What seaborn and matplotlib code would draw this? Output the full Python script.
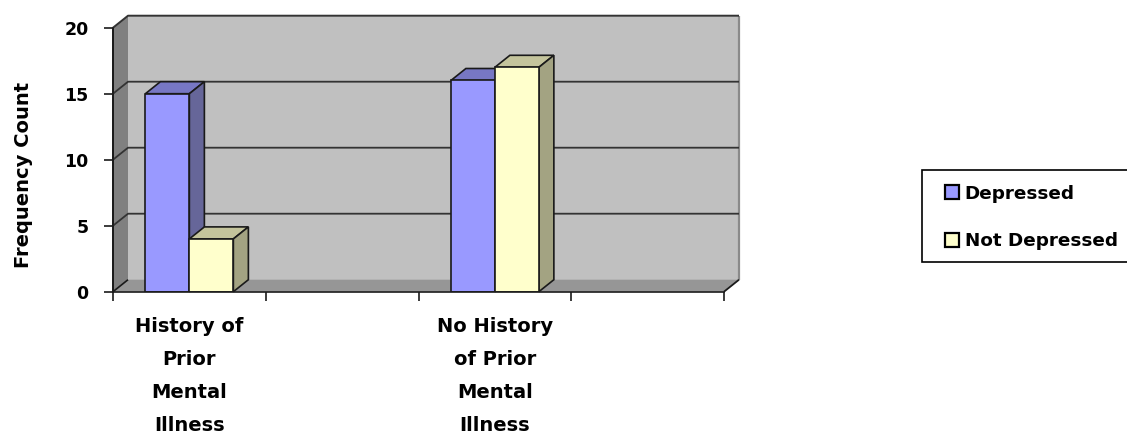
import numpy as np
import pandas as pd
import matplotlib
matplotlib.use("Agg")
import matplotlib.pyplot as plt
from matplotlib.patches import Polygon, Rectangle, Patch
from matplotlib.colors import to_hex
from matplotlib.transforms import Affine2D
import seaborn as sns

categories = ["History of\nPrior\nMental\nIllness", "", "No History\nof Prior\nMental\nIllness", " "]
bar_categories = ["History of\nPrior\nMental\nIllness", "No History\nof Prior\nMental\nIllness"]
depressed = [15, 16]
not_depressed = [4, 17]
series_names = ["Depressed", "Not Depressed"]
y_ticks = [0, 5, 10, 15, 20]
y_label = "Frequency Count"

FRONT = {"Depressed": "#9999FF", "Not Depressed": "#FFFFCC"}
SIDE = {"Depressed": "#666699", "Not Depressed": "#A3A382"}
TOP = {"Depressed": "#7777C4", "Not Depressed": "#C4C49C"}
DX, DY = 15, 12
LINE = "#1a1a1a"

df = pd.DataFrame({
    "Category": bar_categories * 2,
    "Status": [series_names[0]] * 2 + [series_names[1]] * 2,
    "Frequency": depressed + not_depressed,
})

sns.set_theme(style="white")
plt.rcParams["font.family"] = ["DejaVu Sans"]
plt.rcParams["font.weight"] = "bold"

W, H = 1127, 436
fig = plt.figure(figsize=(W / 100, H / 100), dpi=100, facecolor="white")
ax = fig.add_axes([113 / W, 1 - 291.7 / H, (724 - 113) / W, (291.7 - 27.7) / H])
ax.patch.set_alpha(0)

sns.barplot(data=df, x="Category", y="Frequency", hue="Status", order=categories,
            hue_order=series_names, palette=FRONT, saturation=1, width=0.576, gap=0, dodge=True,
            edgecolor=LINE, linewidth=1.2, zorder=5, ax=ax, legend=False)
ax.set_xlim(-0.5, 3.5)
ax.set_ylim(0, 20)
bars = sorted([p for p in ax.patches if isinstance(p, Rectangle) and p.get_height() > 0],
              key=lambda p: p.get_x())

# pseudo-3D box, derived from the axes scales
to_px = ax.transData.transform
def poly(pts, color, z, edge="none", lw=0):
    ax.add_patch(Polygon(pts, closed=True, transform=Affine2D(), facecolor=color,
                         edgecolor=edge, linewidth=lw, zorder=z, clip_on=False))
def line(pts, z=2, color=LINE, lw=1.0):
    arr = np.array(pts)
    ax.plot(arr[:, 0], arr[:, 1], transform=Affine2D(), color=color, lw=lw, zorder=z,
            clip_on=False, solid_capstyle="butt")

xl, xr = ax.get_xlim()
ytop = y_ticks[-1]
d = np.array([DX, DY])
bl, br, tl, tr = to_px([(xl, 0), (xr, 0), (xl, ytop), (xr, ytop)])
poly([bl + d, br + d, tr + d, tl + d], "#C0C0C0", 1)
poly([bl, bl + d, tl + d, tl], "#808080", 1)
poly([bl, br, br + d, bl + d], "#969696", 1)
line([tr + d, br + d], color="#8a8a8a", lw=1.6)
line([bl, tl], lw=1.3)
for t in y_ticks:
    a, b = to_px([(xl, t), (xr, t)])
    if t == 0:
        line([a, a + d], lw=1.2)
        continue
    line([a, a + d, b + d], lw=1.4 if t == ytop else 1.3, color="#333333")
line([br, br + d], lw=1.3)

# depth faces of every bar, left to right
for i, p in enumerate(bars):
    name = series_names[0] if to_hex(p.get_facecolor()).upper() == FRONT["Depressed"].upper() else series_names[1]
    x0, x1, h = p.get_x(), p.get_x() + p.get_width(), p.get_height()
    a, b, c = to_px([(x0, h), (x1, h), (x1, 0)])
    poly([a, b, b + d, a + d], TOP[name], 3 + i * 0.1, LINE, 1.2)
    poly([c, b, b + d, c + d], SIDE[name], 3 + i * 0.1, LINE, 1.2)

# axes
for s in ["top", "right"]:
    ax.spines[s].set_visible(False)
for s in ["left", "bottom"]:
    ax.spines[s].set_visible(True)
    ax.spines[s].set_color(LINE)
    ax.spines[s].set_linewidth(1.2)
    ax.spines[s].set_zorder(6)

ax.set_yticks(y_ticks)
ax.tick_params(axis="y", left=True, length=6.5, width=1.2, color=LINE, pad=11, labelsize=12.5, labelcolor="black")
ax.set_xticks(range(len(categories)))
ax.set_xticklabels(categories, linespacing=1.93)
ax.set_xticks(np.arange(len(categories) + 1) - 0.5, minor=True)
ax.tick_params(axis="x", which="major", bottom=False, length=0, pad=18.5, labelsize=14, labelcolor="black")
ax.tick_params(axis="x", which="minor", bottom=True, length=6.5, width=1.2, color=LINE)
ax.set_xlabel("")
ax.set_ylabel("")
fig.text(23.5 / W, 1 - 175 / H, y_label, rotation=90, ha="center", va="center",
         fontsize=14, fontweight="bold", color="black")

# legend
fig.add_artist(Rectangle((922 / W, 1 - 262 / H), 230 / W, 92 / H, transform=fig.transFigure,
                         facecolor="white", edgecolor="black", linewidth=1.2, clip_on=False))
handles = [Patch(facecolor=FRONT[n], edgecolor="black", linewidth=1.6) for n in series_names]
leg = fig.legend(handles, series_names, loc="upper left",
                 bbox_to_anchor=(945 / W, 1 - 184.5 / H),
                 frameon=False, handlelength=0.78, handleheight=0.78, handletextpad=0.3,
                 labelspacing=1.62, borderpad=0, borderaxespad=0,
                 prop={"weight": "bold", "size": 13.2})
for txt in leg.get_texts():
    txt.set_color("black")

fig.savefig("out.png", dpi=100, facecolor="white")
